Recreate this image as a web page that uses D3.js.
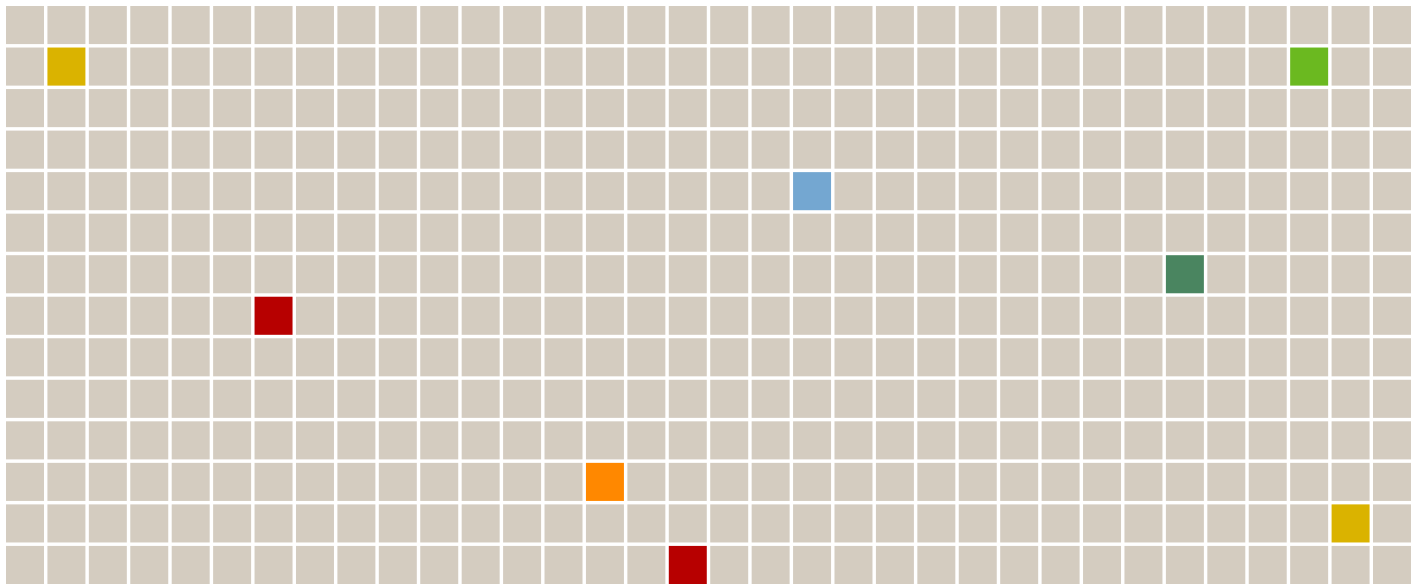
<!DOCTYPE html>
<html>
<head>
<meta charset="utf-8">
<script src="https://cdn.jsdelivr.net/npm/d3@7"></script>
<style>
  body { margin: 0; background: #fff; }
</style>
</head>
<body>
<svg id="canvas"></svg>
<script>
// grid size
const nCols = 34;
const nRows = 14;

// highlighted cells (column, row, colour)
const markCol = [1, 31, 19, 28, 6, 14, 32, 16];
const markRow = [1, 1, 4, 6, 7, 11, 12, 13];
const markColor = ["#dab300", "#6bb920", "#74a7d1", "#4a8560", "#b70000", "#ff8800", "#dab300", "#b70000"];

const width = 1419;
const height = 584;
const svg = d3.select("#canvas").attr("width", width).attr("height", height);

const cells = [];
for (let r = 0; r < nRows; r++) {
  for (let c = 0; c < nCols; c++) cells.push({ c, r });
}
const fillOf = {};
markCol.forEach((c, i) => { fillOf[c + "," + markRow[i]] = markColor[i]; });

const xScale = d3.scaleBand()
  .domain(d3.range(nCols))
  .range([6, 1411])
  .paddingInner(0.083);

const yScale = d3.scaleBand()
  .domain(d3.range(nRows))
  .range([6, 584])
  .paddingInner(0.083);

svg.append("g")
  .selectAll("rect")
  .data(cells)
  .join("rect")
    .attr("x", d => xScale(d.c))
    .attr("y", d => yScale(d.r))
    .attr("width", xScale.bandwidth())
    .attr("height", yScale.bandwidth())
    .attr("fill", d => fillOf[d.c + "," + d.r] || "#d4ccc0");
</script>
</body>
</html>
